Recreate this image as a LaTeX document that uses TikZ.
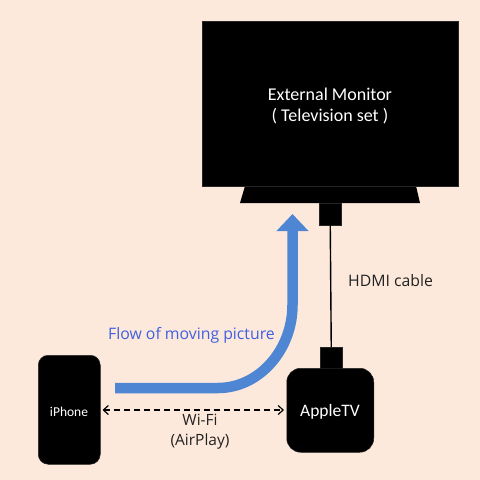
\documentclass[tikz,border=0pt]{standalone}
\usepackage{fontspec}
\setmainfont{Open Sans}
\newfontfamily\bodyfont{Carlito}
\usetikzlibrary{arrows.meta}
\definecolor{bgpeach}{HTML}{FDE9DB}
\definecolor{flowblue}{HTML}{4F86D3}
\definecolor{flowtext}{HTML}{3F5FE0}
\definecolor{darktext}{HTML}{222222}
\tikzset{
  device/.style={fill=black,draw=black!85,line width=0.5pt,inner sep=0pt},
  devtext/.style={text=white,inner sep=0pt,align=center},
  lab/.style={text=darktext,inner sep=0pt,align=center},
}
\begin{document}
\begin{tikzpicture}[x=1pt,y=-1pt]
\useasboundingbox (0,0) rectangle (480,480);
\fill[bgpeach] (0,0) rectangle (480,480);
% stand and monitor
\fill[black] (245,186) -- (416,186) -- (420,203) -- (240,203) -- cycle;
\node[device,minimum width=256pt,minimum height=165pt,anchor=north west] (monitor) at (202,21) {};
\node[devtext,font=\bodyfont\fontsize{18}{21}\selectfont] (monlabel) at (330,106) {External Monitor\\( Television set )};
\node[device,minimum width=22pt,minimum height=22pt,anchor=north west] (plugtop) at (319,202.5) {};
% apple tv
\node[device,minimum width=22pt,minimum height=24pt,anchor=north west] (plugbot) at (320,347) {};
\node[device,rounded corners=14pt,minimum width=87pt,minimum height=84pt,anchor=north west] (appletv) at (286.5,368) {};
\node[devtext,font=\bodyfont\fontsize{17.5}{20}\selectfont] (atvlabel) at (330,412) {AppleTV};
\draw[black,line width=1.4pt] (plugtop.south) -- (plugbot.north);
% iphone
\node[device,rounded corners=10pt,minimum width=62pt,minimum height=109pt,anchor=north west] (iphone) at (38,355) {};
\node[devtext,font=\bodyfont\fontsize{13.5}{14}\selectfont] (phlabel) at (69,412) {iPhone};
% flow arrow
\coordinate (flowstart) at (115,388);
\coordinate (flowend) at (292.5,214);
\draw[flowblue,line width=10.5pt,-{Triangle[width=31pt,length=17pt]}] (flowstart) -- (218,388) .. controls (259,388) and (292.5,350) .. (292.5,305) -- (flowend);
\node[anchor=west,text=flowtext,inner sep=0pt,font=\fontsize{15.8}{18}\selectfont] (flowlabel) at (108,335) {Flow of moving picture};
\node[anchor=west,lab,font=\fontsize{15.8}{18}\selectfont] (hdmi) at (348,281) {HDMI cable};
% wifi
\draw[black,line width=1.2pt,dash pattern=on 6pt off 4pt,{Straight Barb[length=5pt,width=9pt]}-{Straight Barb[length=5pt,width=9pt]}] (iphone.east |- 0,410) ++(2,0) coordinate (wl) -- (284,410) coordinate (wr);
\node[lab,font=\fontsize{15.5}{18}\selectfont] (wifi) at (200,420) {Wi-Fi};
\node[lab,font=\fontsize{15.5}{18}\selectfont] (airplay) at (200,441) {(AirPlay)};
\end{tikzpicture}
\end{document}
